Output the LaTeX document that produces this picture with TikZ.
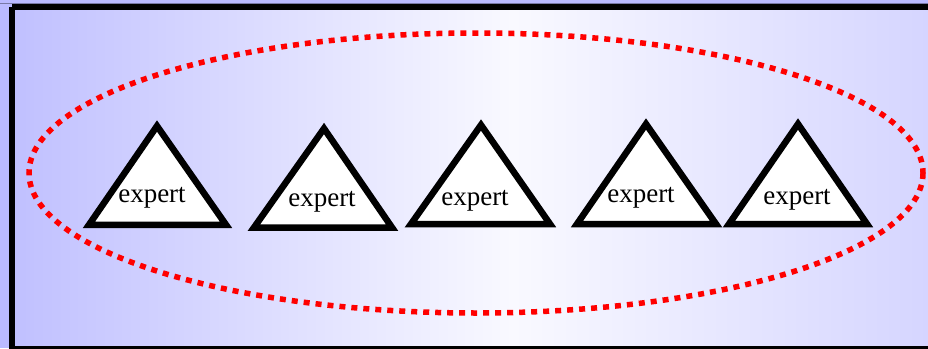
\documentclass[tikz,border=0pt]{standalone}
\usepackage{fontspec}
\setmainfont{Liberation Serif}
\definecolor{outerbg}{RGB}{186,186,255}
\definecolor{leftbg}{RGB}{192,192,255}
\definecolor{midbg}{RGB}{249,249,255}
\definecolor{rightbg}{RGB}{212,212,255}
\definecolor{dotred}{RGB}{255,0,0}
\pgfdeclarehorizontalshading{bgshade}{100bp}{color(0bp)=(leftbg); color(25bp)=(leftbg); color(52bp)=(midbg); color(75bp)=(rightbg); color(100bp)=(rightbg)}
\tikzset{
  tri/.style={draw=black, fill=white, line width=6.5pt, miter limit=10},
  lbl/.style={font=\fontsize{27}{32}\selectfont, inner sep=0pt},
  grp/.style={draw=dotred, line width=5.5pt, dash pattern=on 6pt off 6pt}
}
\begin{document}
\begin{tikzpicture}[x=1pt,y=-1pt]
\useasboundingbox (0,0) rectangle (928,348);
\clip (0,0) rectangle (928,348);
\fill[outerbg] (0,0) rectangle (928,348);
\fill[black!35!outerbg] (0,2.5) rectangle (928,4);
\shade[shading=bgshade] (12,7) rectangle (940,349);
\draw[line width=6.5pt] (12,7) -- (960,7) (12,7) -- (12,349) -- (960,349);
% ellipse grouping
\draw[grp] (476,173) ellipse [x radius=447, y radius=140];
% triangles
\draw[tri] (157,126) -- (89,224.75) -- (226,224.75) -- cycle;
\draw[tri] (324,128.5) -- (254,227.5) -- (392,227.5) -- cycle;
\draw[tri] (481,125) -- (411,224) -- (550,224) -- cycle;
\draw[tri] (646,124) -- (577,224) -- (716,224) -- cycle;
\draw[tri] (798,124) -- (729,224) -- (867,224) -- cycle;
% labels
\node[lbl] (e1) at (152,198) {expert};
\node[lbl] (e2) at (322,202) {expert};
\node[lbl] (e3) at (475,201) {expert};
\node[lbl] (e4) at (641,198) {expert};
\node[lbl] (e5) at (797,200) {expert};
\end{tikzpicture}
\end{document}
